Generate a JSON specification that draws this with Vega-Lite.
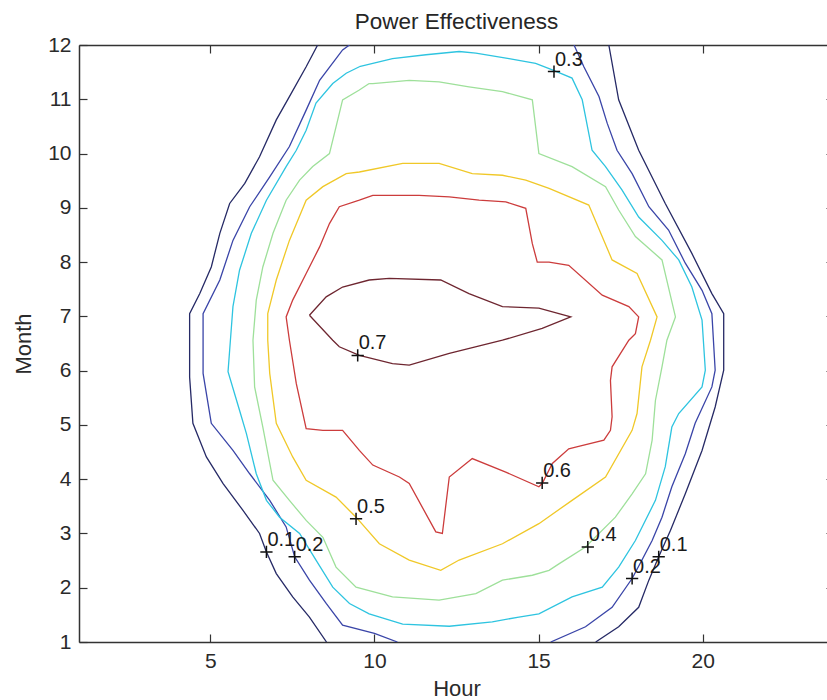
{
  "$schema": "https://vega.github.io/schema/vega-lite/v6.json",
  "autosize": "none",
  "width": 755,
  "height": 597,
  "padding": {"left": 79, "top": 45, "right": 0, "bottom": 58},
  "background": "white",
  "title": {"text": "Power Effectiveness", "fontSize": 22.5, "fontWeight": "normal", "font": "Liberation Sans", "color": "#262626", "offset": 1},
  "config": {
    "view": {"stroke": null},
    "axis": {"labelFont": "Liberation Sans", "titleFont": "Liberation Sans", "labelFontSize": 21, "titleFontSize": 22, "titleFontWeight": "normal", "labelColor": "#2a2a2a", "titleColor": "#2a2a2a", "grid": false, "domainColor": "#333333", "tickColor": "#333333", "domainWidth": 1.5, "tickWidth": 1.2, "tickSize": -8, "labelPadding": 16}
  },
  "datasets": {
    "contours": [
      {"c":"0.1a","lv":"0.1","i":0,"x":8.27,"y":12},{"c":"0.1a","lv":"0.1","i":1,"x":7.92,"y":11.6},{"c":"0.1a","lv":"0.1","i":2,"x":7.41,"y":11.05},{"c":"0.1a","lv":"0.1","i":3,"x":7.01,"y":10.62},{"c":"0.1a","lv":"0.1","i":4,"x":6.5,"y":9.94},{"c":"0.1a","lv":"0.1","i":5,"x":6.05,"y":9.45},{"c":"0.1a","lv":"0.1","i":6,"x":5.59,"y":9.08},{"c":"0.1a","lv":"0.1","i":7,"x":5.29,"y":8.53},{"c":"0.1a","lv":"0.1","i":8,"x":5.03,"y":7.91},{"c":"0.1a","lv":"0.1","i":9,"x":4.68,"y":7.42},{"c":"0.1a","lv":"0.1","i":10,"x":4.37,"y":7.05},{"c":"0.1a","lv":"0.1","i":11,"x":4.37,"y":5.88},{"c":"0.1a","lv":"0.1","i":12,"x":4.47,"y":5.03},{"c":"0.1a","lv":"0.1","i":13,"x":4.88,"y":4.41},{"c":"0.1a","lv":"0.1","i":14,"x":5.39,"y":3.92},{"c":"0.1a","lv":"0.1","i":15,"x":5.99,"y":3.43},{"c":"0.1a","lv":"0.1","i":16,"x":6.5,"y":3.0},{"c":"0.1a","lv":"0.1","i":17,"x":6.71,"y":2.66},{"c":"0.1a","lv":"0.1","i":18,"x":7.01,"y":2.26},{"c":"0.1a","lv":"0.1","i":19,"x":7.51,"y":1.83},{"c":"0.1a","lv":"0.1","i":20,"x":8.02,"y":1.46},{"c":"0.1a","lv":"0.1","i":21,"x":8.54,"y":1},
      {"c":"0.1b","lv":"0.1","i":0,"x":17.14,"y":12},{"c":"0.1b","lv":"0.1","i":1,"x":17.44,"y":10.99},{"c":"0.1b","lv":"0.1","i":2,"x":18.05,"y":10.06},{"c":"0.1b","lv":"0.1","i":3,"x":18.86,"y":9.08},{"c":"0.1b","lv":"0.1","i":4,"x":19.67,"y":8.16},{"c":"0.1b","lv":"0.1","i":5,"x":20.28,"y":7.42},{"c":"0.1b","lv":"0.1","i":6,"x":20.64,"y":7.05},{"c":"0.1b","lv":"0.1","i":7,"x":20.64,"y":6.01},{"c":"0.1b","lv":"0.1","i":8,"x":20.38,"y":5.33},{"c":"0.1b","lv":"0.1","i":9,"x":19.98,"y":4.53},{"c":"0.1b","lv":"0.1","i":10,"x":19.47,"y":3.73},{"c":"0.1b","lv":"0.1","i":11,"x":19.02,"y":3.06},{"c":"0.1b","lv":"0.1","i":12,"x":18.66,"y":2.57},{"c":"0.1b","lv":"0.1","i":13,"x":18.36,"y":2.14},{"c":"0.1b","lv":"0.1","i":14,"x":18.05,"y":1.64},{"c":"0.1b","lv":"0.1","i":15,"x":17.44,"y":1.28},{"c":"0.1b","lv":"0.1","i":16,"x":16.74,"y":1},
      {"c":"0.2a","lv":"0.2","i":0,"x":9.24,"y":12},{"c":"0.2a","lv":"0.2","i":1,"x":9.03,"y":11.91},{"c":"0.2a","lv":"0.2","i":2,"x":8.33,"y":11.35},{"c":"0.2a","lv":"0.2","i":3,"x":7.92,"y":10.8},{"c":"0.2a","lv":"0.2","i":4,"x":7.41,"y":10.13},{"c":"0.2a","lv":"0.2","i":5,"x":6.81,"y":9.57},{"c":"0.2a","lv":"0.2","i":6,"x":6.2,"y":9.02},{"c":"0.2a","lv":"0.2","i":7,"x":5.69,"y":8.4},{"c":"0.2a","lv":"0.2","i":8,"x":5.29,"y":7.67},{"c":"0.2a","lv":"0.2","i":9,"x":4.78,"y":7.05},{"c":"0.2a","lv":"0.2","i":10,"x":4.78,"y":5.95},{"c":"0.2a","lv":"0.2","i":11,"x":5.03,"y":5.03},{"c":"0.2a","lv":"0.2","i":12,"x":5.69,"y":4.53},{"c":"0.2a","lv":"0.2","i":13,"x":6.2,"y":4.1},{"c":"0.2a","lv":"0.2","i":14,"x":6.81,"y":3.61},{"c":"0.2a","lv":"0.2","i":15,"x":7.31,"y":3.12},{"c":"0.2a","lv":"0.2","i":16,"x":7.57,"y":2.57},{"c":"0.2a","lv":"0.2","i":17,"x":8.02,"y":2.14},{"c":"0.2a","lv":"0.2","i":18,"x":8.53,"y":1.71},{"c":"0.2a","lv":"0.2","i":19,"x":9.03,"y":1.31},{"c":"0.2a","lv":"0.2","i":20,"x":10.0,"y":1.16},{"c":"0.2a","lv":"0.2","i":21,"x":10.7,"y":1},
      {"c":"0.2b","lv":"0.2","i":0,"x":16.08,"y":12},{"c":"0.2b","lv":"0.2","i":1,"x":16.38,"y":11.6},{"c":"0.2b","lv":"0.2","i":2,"x":16.84,"y":11.05},{"c":"0.2b","lv":"0.2","i":3,"x":17.09,"y":10.56},{"c":"0.2b","lv":"0.2","i":4,"x":17.39,"y":10.06},{"c":"0.2b","lv":"0.2","i":5,"x":17.85,"y":9.63},{"c":"0.2b","lv":"0.2","i":6,"x":18.36,"y":9.02},{"c":"0.2b","lv":"0.2","i":7,"x":18.96,"y":8.59},{"c":"0.2b","lv":"0.2","i":8,"x":19.47,"y":7.98},{"c":"0.2b","lv":"0.2","i":9,"x":19.98,"y":7.48},{"c":"0.2b","lv":"0.2","i":10,"x":20.28,"y":7.05},{"c":"0.2b","lv":"0.2","i":11,"x":20.38,"y":6.01},{"c":"0.2b","lv":"0.2","i":12,"x":20.28,"y":5.7},{"c":"0.2b","lv":"0.2","i":13,"x":19.77,"y":5.03},{"c":"0.2b","lv":"0.2","i":14,"x":19.47,"y":4.47},{"c":"0.2b","lv":"0.2","i":15,"x":19.06,"y":3.86},{"c":"0.2b","lv":"0.2","i":16,"x":18.76,"y":3.3},{"c":"0.2b","lv":"0.2","i":17,"x":18.46,"y":2.87},{"c":"0.2b","lv":"0.2","i":18,"x":18.15,"y":2.51},{"c":"0.2b","lv":"0.2","i":19,"x":17.85,"y":2.17},{"c":"0.2b","lv":"0.2","i":20,"x":17.24,"y":1.64},{"c":"0.2b","lv":"0.2","i":21,"x":16.43,"y":1.28},{"c":"0.2b","lv":"0.2","i":22,"x":15.37,"y":1},
      {"c":"0.3","lv":"0.3","i":0,"x":9.54,"y":11.6},{"c":"0.3","lv":"0.3","i":1,"x":10.55,"y":11.75},{"c":"0.3","lv":"0.3","i":2,"x":11.57,"y":11.82},{"c":"0.3","lv":"0.3","i":3,"x":12.58,"y":11.88},{"c":"0.3","lv":"0.3","i":4,"x":13.09,"y":11.85},{"c":"0.3","lv":"0.3","i":5,"x":14.1,"y":11.75},{"c":"0.3","lv":"0.3","i":6,"x":14.91,"y":11.66},{"c":"0.3","lv":"0.3","i":7,"x":15.42,"y":11.54},{"c":"0.3","lv":"0.3","i":8,"x":16.02,"y":11.39},{"c":"0.3","lv":"0.3","i":9,"x":16.33,"y":10.99},{"c":"0.3","lv":"0.3","i":10,"x":16.63,"y":10.06},{"c":"0.3","lv":"0.3","i":11,"x":17.04,"y":9.76},{"c":"0.3","lv":"0.3","i":12,"x":17.54,"y":9.33},{"c":"0.3","lv":"0.3","i":13,"x":18.05,"y":8.83},{"c":"0.3","lv":"0.3","i":14,"x":18.76,"y":8.4},{"c":"0.3","lv":"0.3","i":15,"x":19.27,"y":8.04},{"c":"0.3","lv":"0.3","i":16,"x":19.67,"y":7.54},{"c":"0.3","lv":"0.3","i":17,"x":19.98,"y":6.93},{"c":"0.3","lv":"0.3","i":18,"x":20.08,"y":6.01},{"c":"0.3","lv":"0.3","i":19,"x":19.98,"y":5.7},{"c":"0.3","lv":"0.3","i":20,"x":19.27,"y":5.21},{"c":"0.3","lv":"0.3","i":21,"x":19.06,"y":4.96},{"c":"0.3","lv":"0.3","i":22,"x":18.86,"y":4.23},{"c":"0.3","lv":"0.3","i":23,"x":18.56,"y":3.61},{"c":"0.3","lv":"0.3","i":24,"x":17.95,"y":2.87},{"c":"0.3","lv":"0.3","i":25,"x":17.44,"y":2.38},{"c":"0.3","lv":"0.3","i":26,"x":16.94,"y":2.01},{"c":"0.3","lv":"0.3","i":27,"x":16.02,"y":1.83},{"c":"0.3","lv":"0.3","i":28,"x":15.01,"y":1.52},{"c":"0.3","lv":"0.3","i":29,"x":14.4,"y":1.46},{"c":"0.3","lv":"0.3","i":30,"x":13.59,"y":1.37},{"c":"0.3","lv":"0.3","i":31,"x":12.28,"y":1.29},{"c":"0.3","lv":"0.3","i":32,"x":10.86,"y":1.33},{"c":"0.3","lv":"0.3","i":33,"x":9.84,"y":1.52},{"c":"0.3","lv":"0.3","i":34,"x":9.24,"y":1.71},{"c":"0.3","lv":"0.3","i":35,"x":8.73,"y":2.01},{"c":"0.3","lv":"0.3","i":36,"x":8.22,"y":2.51},{"c":"0.3","lv":"0.3","i":37,"x":7.72,"y":3.0},{"c":"0.3","lv":"0.3","i":38,"x":7.11,"y":3.3},{"c":"0.3","lv":"0.3","i":39,"x":6.71,"y":3.61},{"c":"0.3","lv":"0.3","i":40,"x":6.4,"y":4.1},{"c":"0.3","lv":"0.3","i":41,"x":6.1,"y":4.84},{"c":"0.3","lv":"0.3","i":42,"x":5.89,"y":5.27},{"c":"0.3","lv":"0.3","i":43,"x":5.54,"y":5.98},{"c":"0.3","lv":"0.3","i":44,"x":5.59,"y":6.38},{"c":"0.3","lv":"0.3","i":45,"x":5.69,"y":7.18},{"c":"0.3","lv":"0.3","i":46,"x":5.89,"y":7.85},{"c":"0.3","lv":"0.3","i":47,"x":6.25,"y":8.53},{"c":"0.3","lv":"0.3","i":48,"x":6.71,"y":9.14},{"c":"0.3","lv":"0.3","i":49,"x":7.31,"y":9.76},{"c":"0.3","lv":"0.3","i":50,"x":7.62,"y":10.06},{"c":"0.3","lv":"0.3","i":51,"x":7.92,"y":10.43},{"c":"0.3","lv":"0.3","i":52,"x":8.22,"y":10.93},{"c":"0.3","lv":"0.3","i":53,"x":8.73,"y":11.29},{"c":"0.3","lv":"0.3","i":54,"x":9.14,"y":11.48},{"c":"0.3","lv":"0.3","i":55,"x":9.54,"y":11.6},
      {"c":"0.4","lv":"0.4","i":0,"x":9.84,"y":11.29},{"c":"0.4","lv":"0.4","i":1,"x":9.54,"y":11.17},{"c":"0.4","lv":"0.4","i":2,"x":9.03,"y":10.99},{"c":"0.4","lv":"0.4","i":3,"x":8.83,"y":10.49},{"c":"0.4","lv":"0.4","i":4,"x":8.63,"y":10.0},{"c":"0.4","lv":"0.4","i":5,"x":8.12,"y":9.76},{"c":"0.4","lv":"0.4","i":6,"x":7.72,"y":9.51},{"c":"0.4","lv":"0.4","i":7,"x":7.31,"y":9.14},{"c":"0.4","lv":"0.4","i":8,"x":6.91,"y":8.53},{"c":"0.4","lv":"0.4","i":9,"x":6.6,"y":7.91},{"c":"0.4","lv":"0.4","i":10,"x":6.4,"y":7.3},{"c":"0.4","lv":"0.4","i":11,"x":6.3,"y":6.56},{"c":"0.4","lv":"0.4","i":12,"x":6.35,"y":5.7},{"c":"0.4","lv":"0.4","i":13,"x":6.6,"y":4.96},{"c":"0.4","lv":"0.4","i":14,"x":6.91,"y":3.98},{"c":"0.4","lv":"0.4","i":15,"x":7.41,"y":3.61},{"c":"0.4","lv":"0.4","i":16,"x":7.92,"y":3.24},{"c":"0.4","lv":"0.4","i":17,"x":8.43,"y":2.93},{"c":"0.4","lv":"0.4","i":18,"x":8.83,"y":2.38},{"c":"0.4","lv":"0.4","i":19,"x":9.44,"y":2.01},{"c":"0.4","lv":"0.4","i":20,"x":10.55,"y":1.83},{"c":"0.4","lv":"0.4","i":21,"x":11.97,"y":1.77},{"c":"0.4","lv":"0.4","i":22,"x":13.09,"y":1.89},{"c":"0.4","lv":"0.4","i":23,"x":13.9,"y":2.14},{"c":"0.4","lv":"0.4","i":24,"x":14.81,"y":2.23},{"c":"0.4","lv":"0.4","i":25,"x":15.32,"y":2.32},{"c":"0.4","lv":"0.4","i":26,"x":15.62,"y":2.44},{"c":"0.4","lv":"0.4","i":27,"x":16.43,"y":2.75},{"c":"0.4","lv":"0.4","i":28,"x":17.34,"y":3.3},{"c":"0.4","lv":"0.4","i":29,"x":17.85,"y":3.73},{"c":"0.4","lv":"0.4","i":30,"x":18.26,"y":4.1},{"c":"0.4","lv":"0.4","i":31,"x":18.46,"y":4.72},{"c":"0.4","lv":"0.4","i":32,"x":18.56,"y":5.45},{"c":"0.4","lv":"0.4","i":33,"x":18.76,"y":6.07},{"c":"0.4","lv":"0.4","i":34,"x":18.91,"y":6.56},{"c":"0.4","lv":"0.4","i":35,"x":19.17,"y":6.99},{"c":"0.4","lv":"0.4","i":36,"x":18.76,"y":8.04},{"c":"0.4","lv":"0.4","i":37,"x":17.95,"y":8.47},{"c":"0.4","lv":"0.4","i":38,"x":17.44,"y":8.96},{"c":"0.4","lv":"0.4","i":39,"x":17.04,"y":9.39},{"c":"0.4","lv":"0.4","i":40,"x":16.02,"y":9.76},{"c":"0.4","lv":"0.4","i":41,"x":15.01,"y":10.0},{"c":"0.4","lv":"0.4","i":42,"x":14.81,"y":10.99},{"c":"0.4","lv":"0.4","i":43,"x":13.9,"y":11.14},{"c":"0.4","lv":"0.4","i":44,"x":12.88,"y":11.23},{"c":"0.4","lv":"0.4","i":45,"x":11.97,"y":11.32},{"c":"0.4","lv":"0.4","i":46,"x":11.06,"y":11.35},{"c":"0.4","lv":"0.4","i":47,"x":9.95,"y":11.29},{"c":"0.4","lv":"0.4","i":48,"x":9.84,"y":11.29},
      {"c":"0.5","lv":"0.5","i":0,"x":9.54,"y":9.66},{"c":"0.5","lv":"0.5","i":1,"x":10.86,"y":9.82},{"c":"0.5","lv":"0.5","i":2,"x":11.97,"y":9.82},{"c":"0.5","lv":"0.5","i":3,"x":12.98,"y":9.63},{"c":"0.5","lv":"0.5","i":4,"x":13.9,"y":9.6},{"c":"0.5","lv":"0.5","i":5,"x":14.61,"y":9.51},{"c":"0.5","lv":"0.5","i":6,"x":15.32,"y":9.36},{"c":"0.5","lv":"0.5","i":7,"x":16.53,"y":9.05},{"c":"0.5","lv":"0.5","i":8,"x":17.24,"y":8.04},{"c":"0.5","lv":"0.5","i":9,"x":18.0,"y":7.79},{"c":"0.5","lv":"0.5","i":10,"x":18.61,"y":6.99},{"c":"0.5","lv":"0.5","i":11,"x":18.41,"y":6.56},{"c":"0.5","lv":"0.5","i":12,"x":18.15,"y":6.07},{"c":"0.5","lv":"0.5","i":13,"x":18.0,"y":5.21},{"c":"0.5","lv":"0.5","i":14,"x":17.85,"y":4.9},{"c":"0.5","lv":"0.5","i":15,"x":17.04,"y":4.04},{"c":"0.5","lv":"0.5","i":16,"x":16.02,"y":3.61},{"c":"0.5","lv":"0.5","i":17,"x":15.01,"y":3.18},{"c":"0.5","lv":"0.5","i":18,"x":13.9,"y":2.81},{"c":"0.5","lv":"0.5","i":19,"x":12.58,"y":2.51},{"c":"0.5","lv":"0.5","i":20,"x":12.02,"y":2.32},{"c":"0.5","lv":"0.5","i":21,"x":11.06,"y":2.51},{"c":"0.5","lv":"0.5","i":22,"x":10.15,"y":2.81},{"c":"0.5","lv":"0.5","i":23,"x":9.44,"y":3.3},{"c":"0.5","lv":"0.5","i":24,"x":8.83,"y":3.67},{"c":"0.5","lv":"0.5","i":25,"x":7.92,"y":3.98},{"c":"0.5","lv":"0.5","i":26,"x":7.51,"y":4.41},{"c":"0.5","lv":"0.5","i":27,"x":7.01,"y":5.03},{"c":"0.5","lv":"0.5","i":28,"x":6.81,"y":5.95},{"c":"0.5","lv":"0.5","i":29,"x":6.75,"y":6.56},{"c":"0.5","lv":"0.5","i":30,"x":6.75,"y":7.05},{"c":"0.5","lv":"0.5","i":31,"x":7.01,"y":7.67},{"c":"0.5","lv":"0.5","i":32,"x":7.41,"y":8.4},{"c":"0.5","lv":"0.5","i":33,"x":7.92,"y":9.14},{"c":"0.5","lv":"0.5","i":34,"x":8.43,"y":9.39},{"c":"0.5","lv":"0.5","i":35,"x":9.14,"y":9.63},{"c":"0.5","lv":"0.5","i":36,"x":9.54,"y":9.66},
      {"c":"0.6","lv":"0.6","i":0,"x":9.54,"y":9.14},{"c":"0.6","lv":"0.6","i":1,"x":9.95,"y":9.23},{"c":"0.6","lv":"0.6","i":2,"x":11.36,"y":9.23},{"c":"0.6","lv":"0.6","i":3,"x":12.28,"y":9.2},{"c":"0.6","lv":"0.6","i":4,"x":13.19,"y":9.14},{"c":"0.6","lv":"0.6","i":5,"x":14.0,"y":9.11},{"c":"0.6","lv":"0.6","i":6,"x":14.61,"y":8.99},{"c":"0.6","lv":"0.6","i":7,"x":14.81,"y":8.34},{"c":"0.6","lv":"0.6","i":8,"x":14.96,"y":8.0},{"c":"0.6","lv":"0.6","i":9,"x":15.32,"y":8.0},{"c":"0.6","lv":"0.6","i":10,"x":15.92,"y":7.94},{"c":"0.6","lv":"0.6","i":11,"x":16.94,"y":7.39},{"c":"0.6","lv":"0.6","i":12,"x":17.75,"y":7.18},{"c":"0.6","lv":"0.6","i":13,"x":18.05,"y":6.99},{"c":"0.6","lv":"0.6","i":14,"x":17.95,"y":6.68},{"c":"0.6","lv":"0.6","i":15,"x":17.75,"y":6.56},{"c":"0.6","lv":"0.6","i":16,"x":17.24,"y":6.07},{"c":"0.6","lv":"0.6","i":17,"x":17.19,"y":5.82},{"c":"0.6","lv":"0.6","i":18,"x":17.24,"y":5.15},{"c":"0.6","lv":"0.6","i":19,"x":17.19,"y":4.9},{"c":"0.6","lv":"0.6","i":20,"x":16.99,"y":4.72},{"c":"0.6","lv":"0.6","i":21,"x":16.13,"y":4.59},{"c":"0.6","lv":"0.6","i":22,"x":15.92,"y":4.56},{"c":"0.6","lv":"0.6","i":23,"x":15.42,"y":4.29},{"c":"0.6","lv":"0.6","i":24,"x":15.11,"y":3.92},{"c":"0.6","lv":"0.6","i":25,"x":15.01,"y":3.86},{"c":"0.6","lv":"0.6","i":26,"x":14.0,"y":4.13},{"c":"0.6","lv":"0.6","i":27,"x":12.98,"y":4.38},{"c":"0.6","lv":"0.6","i":28,"x":12.28,"y":4.04},{"c":"0.6","lv":"0.6","i":29,"x":12.07,"y":3.0},{"c":"0.6","lv":"0.6","i":30,"x":11.87,"y":3.03},{"c":"0.6","lv":"0.6","i":31,"x":11.06,"y":3.92},{"c":"0.6","lv":"0.6","i":32,"x":10.76,"y":4.04},{"c":"0.6","lv":"0.6","i":33,"x":9.95,"y":4.26},{"c":"0.6","lv":"0.6","i":34,"x":9.54,"y":4.53},{"c":"0.6","lv":"0.6","i":35,"x":9.03,"y":4.9},{"c":"0.6","lv":"0.6","i":36,"x":8.43,"y":4.9},{"c":"0.6","lv":"0.6","i":37,"x":7.92,"y":4.93},{"c":"0.6","lv":"0.6","i":38,"x":7.62,"y":5.76},{"c":"0.6","lv":"0.6","i":39,"x":7.41,"y":6.56},{"c":"0.6","lv":"0.6","i":40,"x":7.31,"y":6.99},{"c":"0.6","lv":"0.6","i":41,"x":7.51,"y":7.3},{"c":"0.6","lv":"0.6","i":42,"x":7.92,"y":7.79},{"c":"0.6","lv":"0.6","i":43,"x":8.33,"y":8.28},{"c":"0.6","lv":"0.6","i":44,"x":8.63,"y":8.71},{"c":"0.6","lv":"0.6","i":45,"x":8.93,"y":9.02},{"c":"0.6","lv":"0.6","i":46,"x":9.54,"y":9.14},
      {"c":"0.7","lv":"0.7","i":0,"x":8.02,"y":7.02},{"c":"0.7","lv":"0.7","i":1,"x":8.53,"y":7.36},{"c":"0.7","lv":"0.7","i":2,"x":9.03,"y":7.54},{"c":"0.7","lv":"0.7","i":3,"x":9.84,"y":7.67},{"c":"0.7","lv":"0.7","i":4,"x":10.45,"y":7.7},{"c":"0.7","lv":"0.7","i":5,"x":12.02,"y":7.67},{"c":"0.7","lv":"0.7","i":6,"x":12.88,"y":7.42},{"c":"0.7","lv":"0.7","i":7,"x":13.9,"y":7.18},{"c":"0.7","lv":"0.7","i":8,"x":15.01,"y":7.15},{"c":"0.7","lv":"0.7","i":9,"x":15.98,"y":6.99},{"c":"0.7","lv":"0.7","i":10,"x":15.11,"y":6.78},{"c":"0.7","lv":"0.7","i":11,"x":13.9,"y":6.56},{"c":"0.7","lv":"0.7","i":12,"x":12.28,"y":6.32},{"c":"0.7","lv":"0.7","i":13,"x":11.06,"y":6.1},{"c":"0.7","lv":"0.7","i":14,"x":10.55,"y":6.13},{"c":"0.7","lv":"0.7","i":15,"x":9.54,"y":6.28},{"c":"0.7","lv":"0.7","i":16,"x":8.93,"y":6.44},{"c":"0.7","lv":"0.7","i":17,"x":8.73,"y":6.56},{"c":"0.7","lv":"0.7","i":18,"x":8.02,"y":7.02}
    ],
    "labels": [
      {"t":"0.1","x":6.71,"y":2.66},{"t":"0.2","x":7.57,"y":2.57},{"t":"0.5","x":9.44,"y":3.27},{"t":"0.7","x":9.49,"y":6.28},{"t":"0.6","x":15.11,"y":3.93},{"t":"0.4","x":16.5,"y":2.75},{"t":"0.3","x":15.47,"y":11.51},{"t":"0.2","x":17.85,"y":2.17},{"t":"0.1","x":18.66,"y":2.57}
    ]
  },
  "layer": [
    {
      "data": {"name": "contours"},
      "mark": {"type": "line", "strokeWidth": 1.3, "clip": true},
      "encoding": {
        "x": {"field": "x", "type": "quantitative", "scale": {"domain": [1, 24], "nice": false, "zero": false}, "axis": {"orient": "bottom", "values": [5, 10, 15, 20], "title": "Hour", "titlePadding": 7}},
        "y": {"field": "y", "type": "quantitative", "scale": {"domain": [1, 12], "nice": false, "zero": false}, "axis": {"orient": "left", "values": [1,2,3,4,5,6,7,8,9,10,11,12], "title": "Month", "titlePadding": 12}},
        "detail": {"field": "c", "type": "nominal"},
        "order": {"field": "i", "type": "quantitative"},
        "color": {"field": "lv", "type": "nominal", "scale": {"domain": ["0.1","0.2","0.3","0.4","0.5","0.6","0.7"], "range": ["#262a66","#3a45a8","#2ec4e0","#9ee09a","#f0c828","#cc3c3c","#6e2630"]}, "legend": null}
      }
    },
    {
      "data": {"name": "labels"},
      "mark": {"type": "point", "shape": "M-1,0L1,0M0,-1L0,1", "size": 150, "stroke": "#111111", "strokeWidth": 1.5, "filled": false, "opacity": 1},
      "encoding": {
        "x": {"field": "x", "type": "quantitative", "axis": {"orient": "top", "values": [5, 10, 15, 20], "labels": false, "title": null}},
        "y": {"field": "y", "type": "quantitative", "axis": {"orient": "right", "values": [1,2,3,4,5,6,7,8,9,10,11,12], "labels": false, "title": null}}
      }
    },
    {
      "data": {"name": "labels"},
      "mark": {"type": "text", "align": "left", "baseline": "alphabetic", "dx": 1, "dy": -6, "fontSize": 20, "font": "Liberation Sans", "color": "#1a1a1a"},
      "encoding": {
        "x": {"field": "x", "type": "quantitative", "axis": null},
        "y": {"field": "y", "type": "quantitative", "axis": null},
        "text": {"field": "t"}
      }
    }
  ],
  "resolve": {"axis": {"x": "independent", "y": "independent"}}
}
